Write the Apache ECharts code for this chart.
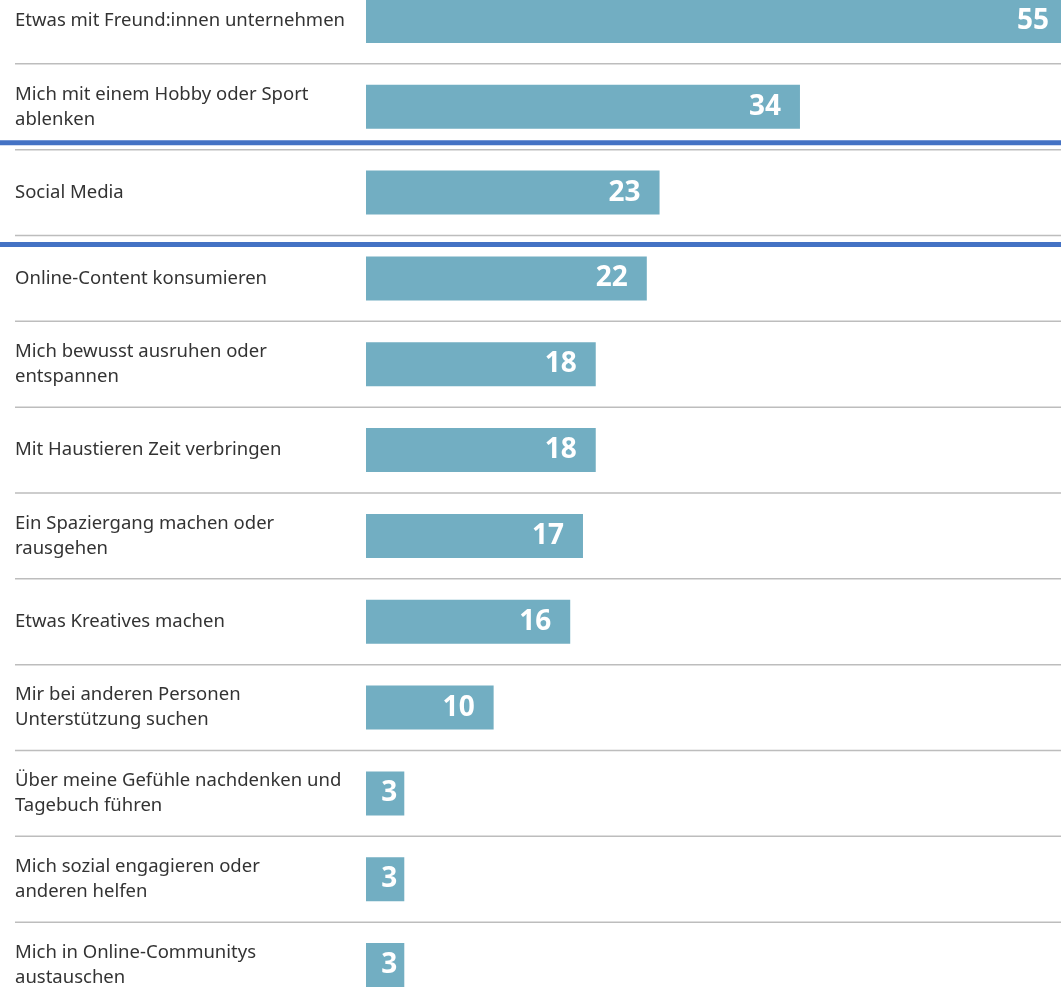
<!DOCTYPE html>
<html>
<head>
<meta charset="utf-8">
<script src="https://cdn.jsdelivr.net/npm/echarts@6/dist/echarts.min.js"></script>
<style>
  html, body { margin: 0; padding: 0; background: #fff; }
  #chart_main { width: 1061px; height: 988px; }
</style>
</head>
<body>
<div id="chart_main"></div>
<script>
var categories = [
    'Etwas mit Freund:innen unternehmen',
    'Mich mit einem Hobby oder Sport\nablenken',
    'Social Media',
    'Online-Content konsumieren',
    'Mich bewusst ausruhen oder\nentspannen',
    'Mit Haustieren Zeit verbringen',
    'Ein Spaziergang machen oder\nrausgehen',
    'Etwas Kreatives machen',
    'Mir bei anderen Personen\nUnterstützung suchen',
    'Über meine Gefühle nachdenken und\nTagebuch führen',
    'Mich sozial engagieren oder\nanderen helfen',
    'Mich in Online-Communitys\naustauschen'
];
var values = [55, 34, 23, 22, 18, 18, 17, 16, 10, 3, 3, 3];
var highlighted = 'Social Media';

var myChart = echarts.init(document.getElementById('chart_main'));

// short bars keep their number closer to the end of the bar
var barData = values.map(function (v) {
    return { value: v, label: { distance: v < 5 ? 7 : 19 } };
});

var option = {
    animation: false,
    grid: {
        left: 366,
        right: -7,
        top: -22,
        bottom: -20,
        outerBoundsMode: 'none'
    },
    xAxis: {
        type: 'value',
        min: 0,
        max: 55,
        show: false
    },
    yAxis: {
        type: 'category',
        data: categories,
        inverse: true,
        axisLine: { show: false },
        axisTick: { show: false },
        splitLine: { show: false },
        axisLabel: {
            align: 'left',
            margin: 351,
            fontFamily: 'Noto Sans',
            fontSize: 18.5,
            lineHeight: 25,
            color: '#333'
        }
    },
    series: [{
        type: 'bar',
        data: barData,
        barWidth: 44,
        itemStyle: { color: '#72aec2' },
        label: {
            show: true,
            position: 'insideRight',
            color: '#fff',
            fontFamily: 'Open Sans',
            fontWeight: 'bold',
            fontSize: 28
        }
    }]
};
myChart.setOption(option);

// row separators and the highlight lines, placed from the category axis
var centers = categories.map(function (c) {
    return myChart.convertToPixel({ yAxisIndex: 0 }, c);
});
var graphics = [];
for (var i = 0; i < centers.length - 1; i++) {
    var y = (centers[i] + centers[i + 1]) / 2;
    graphics.push({
        type: 'line',
        shape: { x1: 15, y1: y, x2: 1061, y2: y },
        style: { stroke: '#bdbdbd', lineWidth: 1.5 },
        z: 1
    });
}
var hi = categories.indexOf(highlighted);
var topY = (centers[hi - 1] + centers[hi]) / 2 - 7;
var botY = (centers[hi] + centers[hi + 1]) / 2 + 9;
[topY, botY].forEach(function (y) {
    graphics.push({
        type: 'line',
        shape: { x1: 0, y1: y, x2: 1061, y2: y },
        style: { stroke: '#4472c4', lineWidth: 5 },
        z: 10
    });
});
myChart.setOption({ graphic: graphics });
</script>
</body>
</html>
